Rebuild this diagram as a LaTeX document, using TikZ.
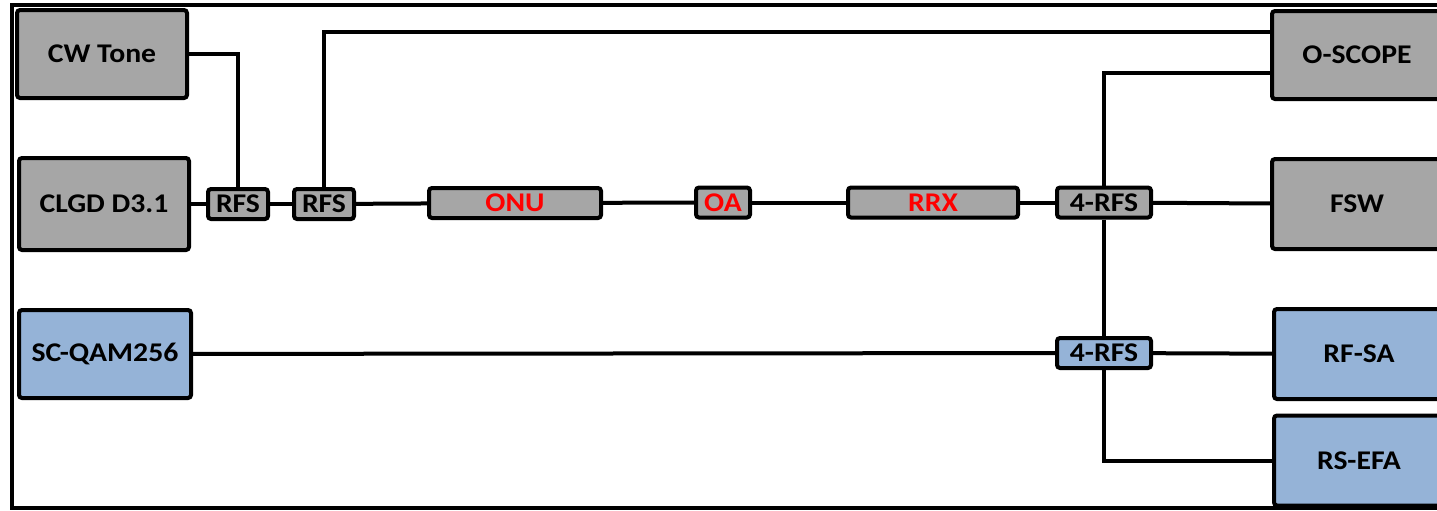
\documentclass[tikz,border=0pt]{standalone}
\usepackage{fontspec}
\setmainfont[FakeStretch=1.1]{Carlito}
\usetikzlibrary{positioning}

\definecolor{boxgray}{HTML}{A6A6A6}
\definecolor{boxblue}{HTML}{95B3D7}

\tikzset{
    unit/.style={draw, line width=2pt, rounded corners=1.5pt, inner sep=0pt,
        font=\fontsize{13.5}{15}\selectfont\bfseries, text=black},
    bigbox/.style={unit, minimum width=85pt, minimum height=44pt},
    smallbox/.style={unit, minimum height=15pt},
    grayfill/.style={fill=boxgray},
    bluefill/.style={fill=boxblue},
    redtext/.style={text=red},
    wire/.style={line width=2pt}
}

\begin{document}
\begin{tikzpicture}[x=0.5pt, y=-0.5pt]

    \useasboundingbox (0,0) rectangle (1437,510);
    \clip (0,0) rectangle (1437,510);

    % Frame
    \draw[line width=1.6pt] (12,5) rectangle (1460,508);

    % Sources
    \node[bigbox, grayfill] (cw) at (102,54) {CW Tone};
    \node[bigbox, grayfill, minimum height=46pt] (clgd) at (104,204) {CLGD D3.1};
    \node[bigbox, bluefill, minimum width=86pt] (scqam) at (105,354) {SC-QAM256};

    % Combiners and optical link
    \node[smallbox, grayfill, minimum width=30pt] (rfsA) at (238,204) {RFS};
    \node[smallbox, grayfill, minimum width=30pt] (rfsB) at (324,204) {RFS};
    \node[smallbox, grayfill, redtext, minimum width=86pt] (onu) at (515,203) {ONU};
    \node[smallbox, grayfill, redtext, minimum width=27pt] (oa) at (723,202.5) {OA};
    \node[smallbox, grayfill, redtext, minimum width=85pt] (rrx) at (933,202.5) {RRX};
    \node[smallbox, grayfill, minimum width=47pt] (fourA) at (1104,202.5) {4-RFS};
    \node[smallbox, bluefill, minimum width=47pt] (fourB) at (1104,353) {4-RFS};

    % Instruments
    \node[bigbox, grayfill] (scope) at (1357,55) {O-SCOPE};
    \node[bigbox, grayfill, minimum height=45pt] (fsw) at (1357,204) {FSW};
    \node[bigbox, bluefill, minimum height=45pt] (rfsa) at (1359,354) {RF-SA};
    \node[bigbox, bluefill, minimum height=45pt] (rsefa) at (1359,460.5) {RS-EFA};

    % Wiring
    \draw[wire] (cw.east) -| (rfsA.north);
    \draw[wire] (clgd) -- (rfsA);
    \draw[wire] (rfsA) -- (rfsB);
    \draw[wire] (rfsB.north) |- ([yshift=11.5pt]scope.west);
    \draw[wire] (rfsB) -- (onu);
    \draw[wire] (onu) -- (oa);
    \draw[wire] (oa) -- (rrx);
    \draw[wire] (rrx) -- (fourA);
    \draw[wire] (fourA) -- (fsw);
    \draw[wire] (fourA.north) |- ([yshift=-9pt]scope.west);
    \draw[wire] (fourA) -- (fourB);
    \draw[wire] (scqam) -- (fourB);
    \draw[wire] (fourB) -- (rfsa);
    \draw[wire] (fourB.south) |- (rsefa.west);

\end{tikzpicture}
\end{document}
